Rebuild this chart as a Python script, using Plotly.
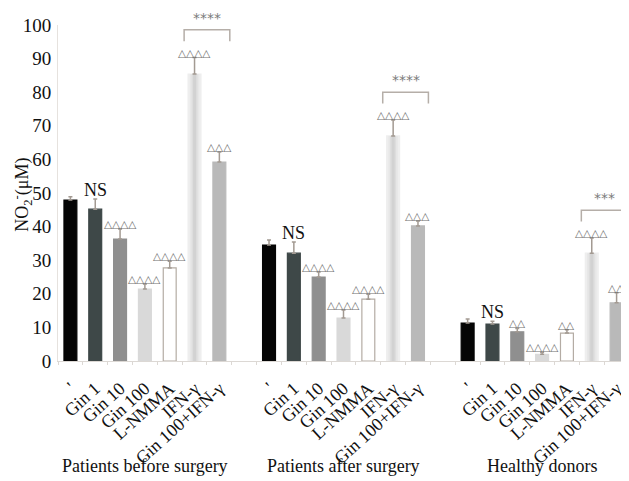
import plotly.graph_objects as go

# ---- data ----
treatments = ["'", "Gin 1", "Gin 10", "Gin 100", "L-NMMA", "IFN-γ", "Gin 100+IFN-γ"]
groups = ["Patients before surgery", "Patients after surgery", "Healthy donors"]
before_vals = [47.9, 45.2, 36.3, 21.4, 27.7, 85.4, 59.2]
before_err = [1.0, 3.0, 3.0, 1.5, 2.0, 4.9, 3.0]
after_vals = [34.5, 32.1, 25.0, 12.8, 18.4, 67.0, 40.2]
after_err = [1.5, 3.3, 1.5, 2.4, 1.5, 4.7, 1.5]
healthy_vals = [11.3, 11.0, 8.7, 2.0, 8.3, 32.1, 17.3]
healthy_err = [1.2, 0.8, 1.0, 0.6, 1.0, 4.5, 3.0]
before_marks = ["", "NS", "△△△△", "△△△△", "△△△△", "△△△△", "△△△"]
after_marks = ["", "NS", "△△△△", "△△△△", "△△△△", "△△△△", "△△△"]
healthy_marks = ["", "NS", "△△", "△△△△", "△△", "△△△△", "△△"]
stars = ["****", "****", "***"]
y_ticks = [0, 10, 20, 30, 40, 50, 60, 70, 80, 90, 100]

bar_colors = ["#050505", "#3e4848", "#8f8f8f", "#d9d9d9", "#ffffff", "#eeeeee", "#b9b9b9"]
bar_lines = ["#050505", "#3e4848", "#8f8f8f", "#d9d9d9", "#b4aca4", "#eeeeee", "#b9b9b9"]

all_vals = [before_vals, after_vals, healthy_vals]
all_err = [before_err, after_err, healthy_err]
all_marks = [before_marks, after_marks, healthy_marks]

xs, ys, es, cols, lcols, ticktext = [], [], [], [], [], []
for g in range(3):
    for i in range(7):
        xs.append(g * 8 + i)
        ys.append(all_vals[g][i])
        es.append(all_err[g][i])
        cols.append(bar_colors[i])
        lcols.append(bar_lines[i])
        ticktext.append(treatments[i])

W = 0.52
serif = "Liberation Serif"

fig = go.Figure()
fig.add_trace(go.Bar(x=xs, y=ys, width=W, marker=dict(color=cols, line=dict(color=lcols, width=1.2)),
                     hoverinfo="skip"))
# gradient effect on IFN-γ bars
ifn_idx = [g * 8 + 5 for g in range(3)]
ifn_vals = [all_vals[g][5] for g in range(3)]
for w, c in [(0.38, "#e7e7e7"), (0.24, "#dddddd"), (0.12, "#d2d2d2")]:
    fig.add_trace(go.Bar(x=ifn_idx, y=ifn_vals, width=w, marker=dict(color=c, line=dict(width=0)),
                         hoverinfo="skip"))
# error bars (upper only)
fig.add_trace(go.Bar(x=xs, y=ys, width=W, marker=dict(color="rgba(0,0,0,0)", line=dict(width=0)),
                     error_y=dict(type="data", symmetric=False, array=es, arrayminus=[0] * len(es),
                                  color="#a39a92", thickness=1.5, width=2),
                     hoverinfo="skip"))

annotations = []
shapes = []
for g in range(3):
    for i in range(7):
        txt = all_marks[g][i]
        if not txt:
            continue
        top = all_vals[g][i] + all_err[g][i]
        if txt == "NS":
            annotations.append(dict(x=g * 8 + i, y=top, text="NS", showarrow=False, yanchor="bottom",
                                    yshift=-3, font=dict(family=serif, size=18, color="#111")))
        else:
            annotations.append(dict(x=g * 8 + i, y=top, text=txt, showarrow=False, yanchor="bottom",
                                    yshift=-3, font=dict(family="DejaVu Sans", size=10.5, color="#707070")))
    # bracket
    x6, x7 = g * 8 + 5, g * 8 + 6
    yb = max(all_vals[g][5] + all_err[g][5], all_vals[g][6] + all_err[g][6]) + 8.3
    shapes.append(dict(type="path", xref="x", yref="y",
                       path=f"M {x6 - 0.42} {yb - 3.4} L {x6 - 0.42} {yb} L {x7 + 0.42} {yb} L {x7 + 0.42} {yb - 3.4}",
                       line=dict(color="#b5aea8", width=1.5)))
    annotations.append(dict(x=(x6 + x7) / 2, y=yb, text=stars[g], showarrow=False, yanchor="bottom",
                            yshift=2, font=dict(family="DejaVu Sans", size=14, color="#7a7a7a")))
    # group label
    annotations.append(dict(x=g * 8 + 3, y=-0.313, xref="x", yref="paper", text=groups[g], showarrow=False,
                            yanchor="middle", font=dict(family=serif, size=18, color="#111")))

annotations.append(dict(x=-0.063, y=0.495, xref="paper", yref="paper", text="NO<sub>2</sub><sup>-</sup>(μM)",
                        textangle=-90, showarrow=False, xanchor="center", yanchor="middle",
                        font=dict(family=serif, size=18, color="#111")))

# the page body adds an 8px offset; size the figure to fill the rest of the window
fig.update_layout(
    width=621, height=473,
    margin=dict(l=50, r=0, t=17, b=120, autoexpand=False),
    paper_bgcolor="white", plot_bgcolor="white",
    barmode="overlay", showlegend=False,
    annotations=annotations, shapes=shapes,
    xaxis=dict(range=[-0.5, 22.5], tickvals=xs, ticktext=ticktext, tickangle=-42, automargin=False,
               tickfont=dict(family=serif, size=18, color="#111"), showgrid=False, zeroline=False,
               ticklabelstandoff=9,
               showline=True, linecolor="#dcd8d4", linewidth=1, ticks="",
               minor=dict(tickvals=[v + 0.5 for v in range(-1, 23)], ticks="outside", ticklen=3,
                          tickcolor="#dcd8d4")),
    yaxis=dict(range=[0, 100], tickvals=y_ticks, tickfont=dict(family=serif, size=19, color="#111"),
               automargin=False, ticklabelstandoff=2,
               showgrid=False, zeroline=False, showline=True, linecolor="#e6e2de", linewidth=1, ticks=""),
)
fig.write_html("out.html")
